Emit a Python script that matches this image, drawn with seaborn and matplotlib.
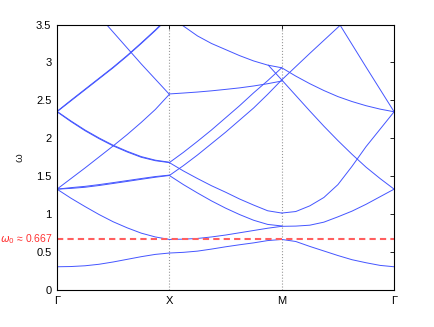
import numpy as np
import pandas as pd
import matplotlib
matplotlib.use('Agg')
import matplotlib.pyplot as plt
import matplotlib.transforms as mtrans
import seaborn as sns

# band curves: (k positions, omega values)
# k: 0 = Gamma, 1 = X, 2 = M, 3 = Gamma
k_gx = [0.0, 0.125, 0.25, 0.375, 0.5, 0.625, 0.75, 0.875, 1.0]
k_xm = [1.0, 1.125, 1.25, 1.375, 1.5, 1.625, 1.75, 1.875, 2.0]
k_mg = [2.0, 2.125, 2.25, 2.375, 2.5, 2.625, 2.75, 2.875, 3.0]

# Gamma -> X
gx_1 = [0.307, 0.31, 0.32, 0.34, 0.37, 0.405, 0.44, 0.47, 0.488]
gx_2 = [1.33, 1.21, 1.10, 0.995, 0.90, 0.82, 0.75, 0.70, 0.667]
gx_3 = [1.33, 1.34, 1.355, 1.378, 1.405, 1.432, 1.46, 1.487, 1.51]
gx_4 = [1.33, 1.35, 1.367, 1.39, 1.416, 1.443, 1.47, 1.496, 1.515]
gx_5 = [1.33, 1.47, 1.61, 1.755, 1.90, 2.05, 2.21, 2.38, 2.58]
gx_6 = [2.35, 2.22, 2.10, 1.995, 1.90, 1.82, 1.75, 1.705, 1.68]
gx_7 = [2.355, 2.228, 2.109, 2.004, 1.909, 1.829, 1.759, 1.712, 1.685]
gx_8 = [2.35, 2.495, 2.64, 2.785, 2.93, 3.085, 3.25, 3.42, 3.60]
gx_9 = [2.355, 2.503, 2.648, 2.793, 2.938, 3.093, 3.258, 3.428, 3.61]
k_gx_10 = [0.25, 0.5, 0.75, 0.875, 1.0]
gx_10 = [3.82, 3.40, 2.98, 2.78, 2.58]

# X -> M
xm_1 = [0.488, 0.497, 0.513, 0.54, 0.57, 0.597, 0.622, 0.652, 0.667]
xm_2 = [0.667, 0.671, 0.68, 0.70, 0.725, 0.755, 0.785, 0.815, 0.84]
xm_3 = [1.68, 1.57, 1.47, 1.375, 1.29, 1.20, 1.12, 1.045, 1.015]
xm_4 = [1.51, 1.39, 1.28, 1.175, 1.08, 0.995, 0.92, 0.865, 0.845]
xm_5 = [1.51, 1.64, 1.78, 1.93, 2.08, 2.24, 2.40, 2.58, 2.77]
xm_6 = [1.68, 1.815, 1.96, 2.11, 2.27, 2.43, 2.60, 2.76, 2.93]
xm_7 = [3.62, 3.48, 3.35, 3.25, 3.17, 3.09, 3.02, 2.965, 2.93]
xm_8 = [2.585, 2.597, 2.61, 2.626, 2.645, 2.665, 2.69, 2.72, 2.755]

# M -> Gamma
mg_1 = [0.667, 0.64, 0.575, 0.515, 0.455, 0.40, 0.36, 0.325, 0.307]
mg_2 = [0.84, 0.843, 0.855, 0.895, 0.965, 1.04, 1.13, 1.23, 1.33]
mg_3 = [1.015, 1.035, 1.11, 1.22, 1.39, 1.63, 1.89, 2.12, 2.35]
k_mg_4 = [1.88, 2.0, 2.125, 2.25, 2.375, 2.5, 2.625, 2.75, 2.875, 3.0]
mg_4 = [2.965, 2.77, 2.565, 2.36, 2.16, 1.97, 1.79, 1.62, 1.47, 1.33]
k_mg_5 = [2.0, 2.25, 2.52, 2.75, 3.0]
mg_5 = [2.77, 3.12, 3.49, 2.94, 2.35]
mg_6 = [2.93, 2.82, 2.72, 2.63, 2.55, 2.485, 2.43, 2.385, 2.35]

omega_0 = 0.667
sym_pos = [0, 1, 2, 3]
sym_labels = ['\u0393', 'X', 'M', '\u0393']
y_ticks = [0, 0.5, 1, 1.5, 2, 2.5, 3, 3.5]
y_labels = ['0', '0.5', '1', '1.5', '2', '2.5', '3', '3.5']

curves = {
    'gx1': (k_gx, gx_1), 'gx2': (k_gx, gx_2), 'gx3': (k_gx, gx_3),
    'gx4': (k_gx, gx_4), 'gx5': (k_gx, gx_5), 'gx6': (k_gx, gx_6),
    'gx7': (k_gx, gx_7), 'gx8': (k_gx, gx_8), 'gx9': (k_gx, gx_9),
    'gx10': (k_gx_10, gx_10),
    'xm1': (k_xm, xm_1), 'xm2': (k_xm, xm_2), 'xm3': (k_xm, xm_3),
    'xm4': (k_xm, xm_4), 'xm5': (k_xm, xm_5), 'xm6': (k_xm, xm_6),
    'xm7': (k_xm, xm_7), 'xm8': (k_xm, xm_8),
    'mg1': (k_mg, mg_1), 'mg2': (k_mg, mg_2), 'mg3': (k_mg, mg_3),
    'mg4': (k_mg_4, mg_4), 'mg5': (k_mg_5, mg_5), 'mg6': (k_mg, mg_6),
}

rows = []
for name, (ks, ws) in curves.items():
    for k, w in zip(ks, ws):
        rows.append(dict(curve=name, k=k, omega=w))
bands = pd.DataFrame(rows)

sns.set_style('white')
plt.rcParams['font.family'] = ['Liberation Sans', 'DejaVu Sans']
plt.rcParams['font.size'] = 8

fig = plt.figure(figsize=(4.35, 3.27), dpi=100)
ax = fig.add_axes([0.131, 0.113, 0.775, 0.812])

sns.lineplot(data=bands, x='k', y='omega', units='curve', estimator=None,
             sort=False, color='#4455ff', linewidth=0.7, ax=ax, legend=False)

for xv in sym_pos[1:3]:
    ax.axvline(xv, color='#999999', linestyle=':', linewidth=0.8, zorder=0)

ax.axhline(omega_0, color='#ff5f5f', linestyle=(0, (3, 2)), linewidth=1.5)
trans = mtrans.blended_transform_factory(ax.transAxes, ax.transData)
ax.text(-0.012, omega_0, r'$\omega_0$ ≈ 0.667', transform=trans,
        ha='right', va='center', color='#ff3030', fontsize=7.5)

ax.set_xlim(0, 3)
ax.set_ylim(0, 3.5)
ax.set_xticks(sym_pos)
ax.set_xticklabels(sym_labels)
ax.set_yticks(y_ticks)
ax.set_yticklabels(y_labels)
ax.set_xlabel('')
ax.set_ylabel('\u03c9', labelpad=8)
ax.tick_params(direction='in', length=3, width=0.6, top=True, right=True,
               labelsize=8, colors='black', pad=4)
for s in ax.spines.values():
    s.set_color('black')
    s.set_linewidth(0.8)

fig.savefig('out.png', dpi=100, facecolor='white')
